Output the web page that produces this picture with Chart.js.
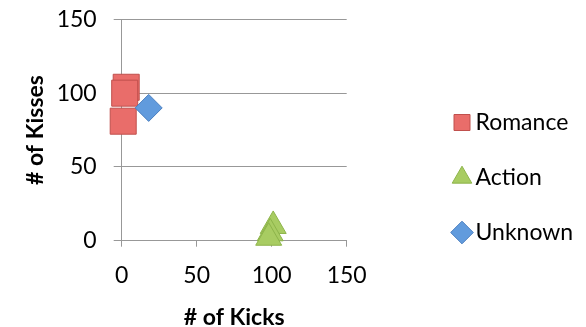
<!DOCTYPE html>
<html><head><meta charset="utf-8">
<script src="https://cdn.jsdelivr.net/npm/chart.js@4/dist/chart.umd.min.js"></script>
<style>html,body{margin:0;padding:0;background:#fff;}#wrap{width:586px;height:327px;}</style>
</head><body><div id="wrap"><canvas id="c" width="586" height="327"></canvas></div>
<script>
// ---- data ----
const seriesNames = ['Romance', 'Action', 'Unknown'];
const romanceKicks = [3, 2, 1];
const romanceKisses = [104, 100, 81];
const actionKicks = [101, 99, 98];
const actionKisses = [10, 5, 2];
const unknownKicks = [18];
const unknownKisses = [90];
const axisMin = 0, axisMax = 150, axisStep = 50;
const xTitle = '# of Kicks';
const yTitle = '# of Kisses';

const pts = (xs, ys) => xs.map((x, i) => ({x, y: ys[i]}));
const FONT = 'Lato';
const GRID = '#989898';

const legendPlacer = {
  id: 'legendPlacer',
  afterInit(chart) {
    const lg = chart.legend;
    const proto = Object.getPrototypeOf(lg);
    lg.fit = function () { proto.fit.call(this); this.width = 239.3; };
  },
  afterLayout(chart) {
    const lg = chart.legend;
    lg.left = 428; lg.right = 586; lg.width = 158;
    lg.top = 79; lg.bottom = 327; lg.height = 248;
  }
};

function build() {
  new Chart(document.getElementById('c'), {
    type: 'scatter',
    data: {
      datasets: [
        {label: seriesNames[0], data: pts(romanceKicks, romanceKisses), pointStyle: 'rect', pointRadius: 18.4, pointHoverRadius: 18.4,
         backgroundColor: '#E96D6A', borderColor: '#C0504D', borderWidth: 1, order: 2, clip: false},
        {label: seriesNames[1], data: pts(actionKicks, actionKisses), pointStyle: 'triangle', pointRadius: 15, pointHoverRadius: 15,
         backgroundColor: '#A8CC62', borderColor: '#8DB44A', borderWidth: 1, order: 1, clip: false},
        {label: seriesNames[2], data: pts(unknownKicks, unknownKisses), pointStyle: 'rectRot', pointRadius: 13.5, pointHoverRadius: 13.5,
         backgroundColor: '#619BDD', borderColor: '#4A7FC0', borderWidth: 1, order: 0, clip: false}
      ]
    },
    options: {
      responsive: false,
      animation: false,
      events: [],
      layout: {padding: {top: 17, left: 0, right: 0, bottom: 0}},
      plugins: {
        tooltip: {enabled: false},
        legend: {
          position: 'right',
          align: 'start',
          labels: {
            usePointStyle: true,
            boxWidth: 4,
            boxHeight: 16,
            padding: 32,
            color: '#000',
            font: {family: FONT, size: 23},
            sort: (a, b) => a.datasetIndex - b.datasetIndex
          }
        }
      },
      scales: {
        x: {
          type: 'linear', min: axisMin, max: axisMax,
          afterFit(s) { s.height = 86.3; },
          ticks: {stepSize: axisStep, color: '#000', font: {family: FONT, size: 23}, padding: 15.5, maxRotation: 0},
          grid: {drawOnChartArea: false, drawTicks: true, tickLength: 6, color: GRID, lineWidth: 1},
          border: {display: true, color: GRID, width: 1},
          title: {display: true, text: xTitle, color: '#000', font: {family: FONT, size: 23, weight: 'bold'}, padding: {top: 0, bottom: -4}}
        },
        y: {
          type: 'linear', min: axisMin, max: axisMax,
          afterFit(s) { s.width = 121.7; s.paddingTop = 0; s.paddingBottom = 0; },
          ticks: {stepSize: axisStep, color: '#000', font: {family: FONT, size: 23}, padding: 17},
          grid: {drawOnChartArea: true, drawTicks: true, tickLength: 8, color: GRID, lineWidth: 1},
          border: {display: true, color: GRID, width: 1},
          title: {display: true, text: yTitle, color: '#000', font: {family: FONT, size: 23, weight: 'bold'}, padding: {top: 22, bottom: 0}}
        }
      }
    },
    plugins: [legendPlacer]
  });
}
if (document.fonts && document.fonts.load) {
  Promise.all([document.fonts.load('23px Lato'), document.fonts.load('bold 23px Lato')]).then(build, build);
} else build();
</script></body></html>
